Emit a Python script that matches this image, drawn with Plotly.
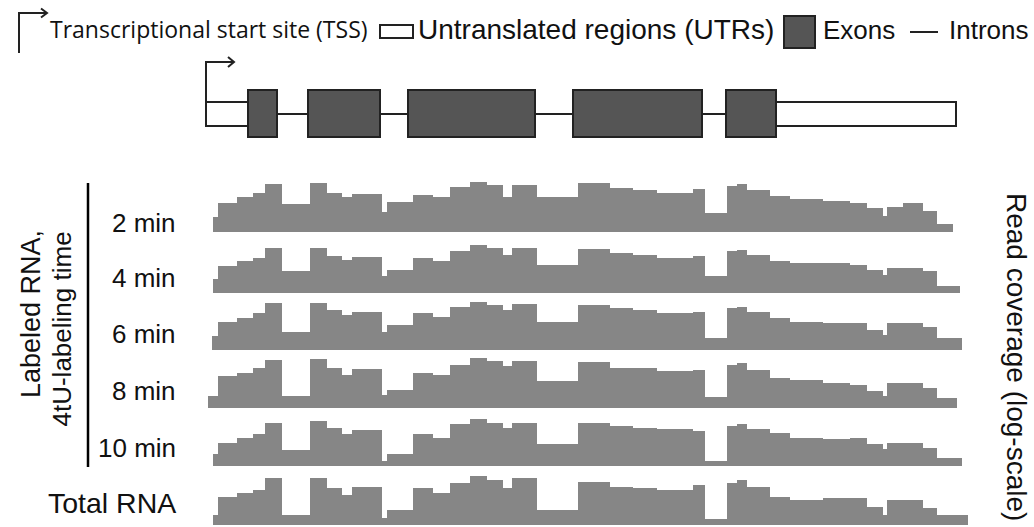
import plotly.graph_objects as go

W, H = 1034, 527

# ---------------- data ----------------
# genomic position (left edge of each coverage step, in figure-aligned units)
steps = [213, 218, 237, 253, 265, 282, 310, 327, 342, 352, 382, 387, 413, 433,
         450, 470, 487, 503, 512, 537, 578, 610, 633, 657, 693, 705, 727, 737,
         747, 770, 790, 823, 850, 867, 883, 887, 903, 923, 937]

track_names = ["2 min", "4 min", "6 min", "8 min", "10 min", "Total RNA"]

cov_2min = [15, 29, 35, 39, 48, 28, 49, 39, 35, 38, 20, 30, 37, 35, 45, 50, 47, 35, 47, 35,
            49, 44, 42, 39, 43, 19, 46, 48, 42, 36, 33, 31, 29, 24, 16, 25, 29, 21, 8]
cov_4min = [14, 27, 32, 35, 45, 22, 45, 37, 33, 36, 17, 23, 35, 32, 42, 48, 45, 38, 45, 28,
            44, 40, 38, 35, 37, 17, 42, 43, 38, 32, 30, 30, 28, 23, 18, 25, 25, 22, 7]
cov_6min = [14, 28, 32, 37, 47, 18, 47, 40, 35, 38, 18, 25, 37, 33, 43, 48, 45, 40, 46, 28,
            45, 42, 40, 37, 38, 12, 42, 43, 38, 32, 28, 27, 27, 20, 15, 27, 27, 23, 12]
cov_8min = [12, 32, 35, 40, 48, 12, 49, 40, 33, 39, 13, 18, 35, 33, 43, 50, 47, 42, 47, 27,
            46, 40, 40, 37, 38, 11, 43, 45, 38, 30, 28, 25, 23, 17, 12, 25, 25, 20, 10]
cov_10min = [12, 23, 28, 32, 43, 16, 45, 38, 32, 36, 5, 12, 32, 28, 42, 47, 43, 38, 43, 22,
             43, 40, 38, 37, 35, 5, 40, 42, 37, 33, 28, 27, 28, 22, 17, 23, 23, 18, 8]
cov_total = [10, 28, 32, 35, 47, 10, 47, 37, 30, 38, 7, 15, 37, 32, 42, 49, 45, 37, 47, 15,
             43, 38, 37, 35, 40, 6, 42, 45, 38, 28, 25, 27, 27, 18, 10, 25, 25, 17, 10]

coverages = [cov_2min, cov_4min, cov_6min, cov_8min, cov_10min, cov_total]
track_start = [213, 213, 212, 208, 213, 213]
track_end = [953, 960, 962, 957, 962, 968]

# gene model
tss_pos = 206
exon_start = [248, 308, 408, 573, 726]
exon_end = [277, 380, 535, 702, 776]
utr3_end = 956

# ---------------- styling / layout constants ----------------
GRAY = "#868686"
EXON = "#555555"
EDGE = "#222222"
TXT = "#111111"
ARIAL = "Liberation Sans, Arial, sans-serif"
MYRIAD = "Open Sans, Lato, sans-serif"

track_baseline_px = [232, 293, 350, 408, 466, 525]
track_height_px = 52
COV_MAX = 52

fig = go.Figure()

for i, (name, cov) in enumerate(zip(track_names, coverages)):
    xs = [track_start[i]] + steps[1:] + [track_end[i]]
    ys = cov + [cov[-1]]
    yname = "y" if i == 0 else f"y{i+1}"
    fig.add_trace(go.Scatter(
        x=xs, y=ys, mode="lines",
        line=dict(width=0, shape="hv", color=GRAY),
        fill="tozeroy", fillcolor=GRAY,
        yaxis=yname, hoverinfo="skip", showlegend=False, name=name))

# overlay axis for gene model & decorations (pixel-aligned)
fig.add_trace(go.Scatter(x=[0], y=[0], yaxis="y7", mode="markers",
                         marker=dict(size=0, opacity=0), hoverinfo="skip", showlegend=False))

layout_axes = {}
for i, base in enumerate(track_baseline_px):
    key = "yaxis" if i == 0 else f"yaxis{i+1}"
    d0 = (H - base) / H
    d1 = (H - base + track_height_px) / H
    layout_axes[key] = dict(domain=[d0, d1], range=[0, COV_MAX], visible=False, fixedrange=True)
layout_axes["yaxis7"] = dict(domain=[0, 1], range=[H, 0], visible=False, fixedrange=True)

shapes = []
def line(x0, y0, x1, y1, w=2, c=EDGE):
    shapes.append(dict(type="line", xref="x", yref="y7", x0=x0, y0=y0, x1=x1, y1=y1,
                       line=dict(color=c, width=w)))

def rect(x0, y0, x1, y1, fill, w=2, c=EDGE):
    shapes.append(dict(type="rect", xref="x", yref="y7", x0=x0, y0=y0, x1=x1, y1=y1,
                       fillcolor=fill, line=dict(color=c, width=w)))

def path(p, w=2, c=EDGE):
    shapes.append(dict(type="path", xref="x", yref="y7", path=p,
                       line=dict(color=c, width=w)))

# ---- gene model ----
EX_T, EX_B = 90, 137
UTR_T, UTR_B = 102, 126
INTRON_Y = 114
# TSS arrow
path(f"M {tss_pos} {UTR_B+1} L {tss_pos} 62 L {tss_pos+28} 62")
path(f"M {tss_pos+22} 57 L {tss_pos+28} 62 L {tss_pos+22} 67")
# 5' UTR
line(tss_pos, UTR_T, exon_start[0], UTR_T)
line(tss_pos, UTR_B, exon_start[0], UTR_B)
# introns
for a, b in zip(exon_end[:-1], exon_start[1:]):
    line(a, INTRON_Y, b, INTRON_Y)
# 3' UTR
rect(exon_end[-1], UTR_T, utr3_end, UTR_B, "white")
# exons
for a, b in zip(exon_start, exon_end):
    rect(a, EX_T, b, EX_B, EXON)

# ---- legend ----
path("M 19 53 L 19 13 L 46 13")
path("M 41 8.5 L 47 13 L 41 17.5")
rect(380, 25, 413, 38, "white")
rect(784, 16, 815, 48, EXON)
line(910, 32, 938, 32)

# vertical bracket for labeled RNA
line(88, 183, 88, 467, w=2.5, c="#000000")

annotations = []
def text(t, x, y, size=26, font=ARIAL, xanchor="left", yanchor="middle", angle=0):
    annotations.append(dict(text=t, x=x, y=y, xref="x", yref="y7", showarrow=False,
                            xanchor=xanchor, yanchor=yanchor, textangle=angle,
                            font=dict(family=font, size=size, color=TXT)))

text("Transcriptional start site (TSS)", 48, 29, size=23, font=MYRIAD)
text("Untranslated regions (UTRs)", 416, 29.5, size=28)
text("Exons", 821, 30)
text("Introns", 947, 30)

for name, base in zip(track_names, [232, 287, 343, 400, 457, 513]):
    if name == "Total RNA":
        text(name, 178, base - 10, size=28.5, xanchor="right")
    else:
        text(name, 178, base - 9, xanchor="right")

text("Labeled RNA,", 31, 228, size=27, xanchor="center", yanchor="top", angle=-90)
text("4tU-labeling time", 61, 230, xanchor="center", yanchor="top", angle=-90)
text("Read coverage (log-scale)", 1017, 357, size=28, xanchor="center", yanchor="middle", angle=90)

fig.update_layout(
    width=W, height=H,
    margin=dict(l=0, r=0, t=0, b=0),
    paper_bgcolor="white", plot_bgcolor="rgba(0,0,0,0)",
    xaxis=dict(range=[0, W], domain=[0, 1], visible=False, fixedrange=True),
    shapes=shapes, annotations=annotations,
    showlegend=False,
    **layout_axes,
)

fig.write_html("out.html", config={"displayModeBar": False},
               post_script="document.body.style.margin='0px';")
